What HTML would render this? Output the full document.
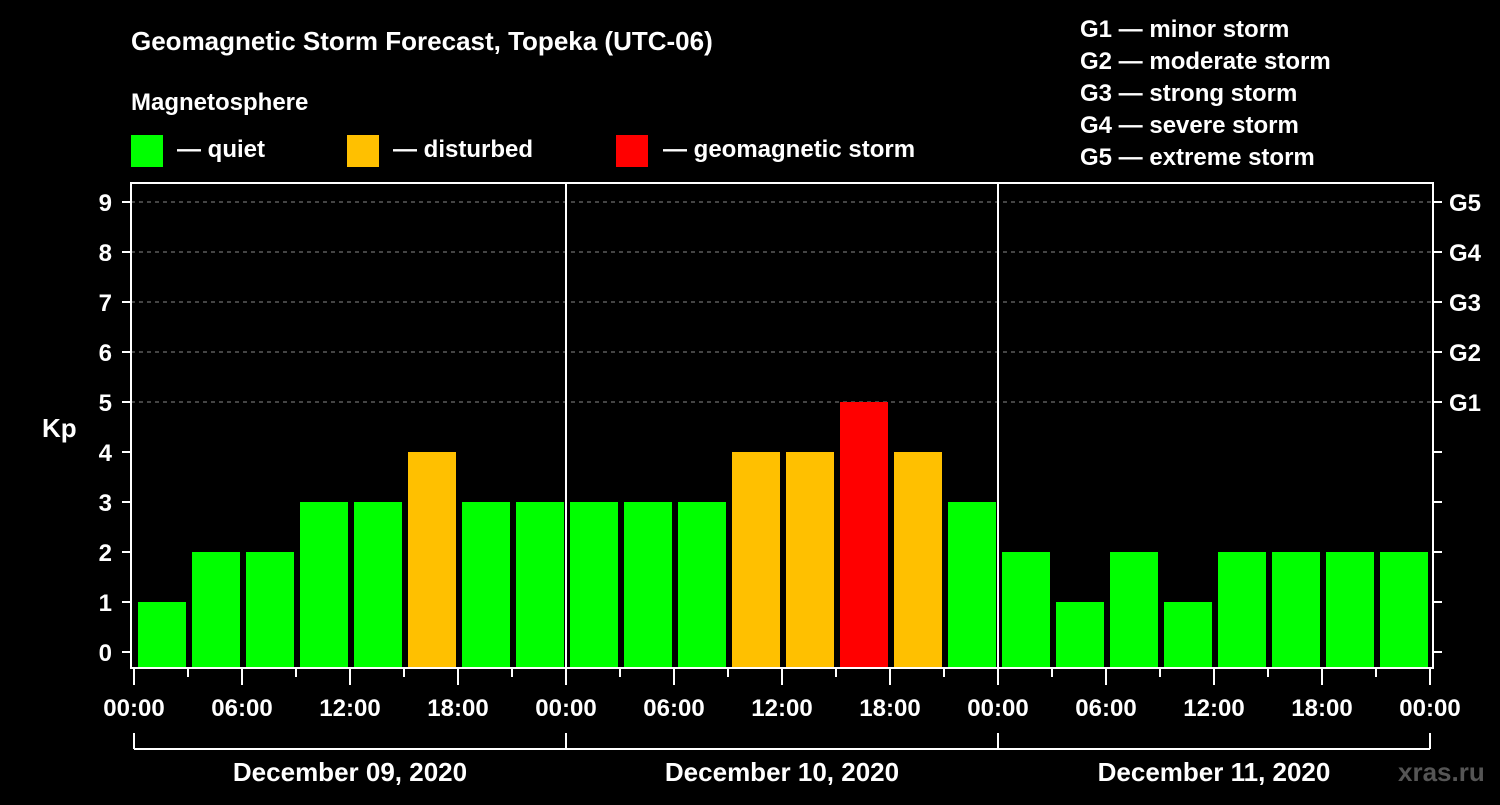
<!DOCTYPE html>
<html><head><meta charset="utf-8"><style>
body{margin:0;background:#000;}
svg text{font-family:"Liberation Sans",sans-serif;font-weight:bold;fill:#fff;}
</style></head><body>
<svg id="chart" width="1500" height="800" xmlns="http://www.w3.org/2000/svg">
<rect width="1500" height="800" fill="#000"/>
<text x="131" y="50" font-size="26">Geomagnetic Storm Forecast, Topeka (UTC-06)</text>
<text x="131" y="110" font-size="24">Magnetosphere</text>
<g>
<rect x="131" y="135" width="32" height="32" fill="#00ff00"/>
<text x="177" y="157" font-size="24">— quiet</text>
<rect x="347" y="135" width="32" height="32" fill="#ffc000"/>
<text x="393" y="157" font-size="24">— disturbed</text>
<rect x="616" y="135" width="32" height="32" fill="#ff0000"/>
<text x="663" y="157" font-size="24">— geomagnetic storm</text>
</g>
<g font-size="24">
<text x="1080" y="37">G1 — minor storm</text>
<text x="1080" y="69">G2 — moderate storm</text>
<text x="1080" y="101">G3 — strong storm</text>
<text x="1080" y="133">G4 — severe storm</text>
<text x="1080" y="165">G5 — extreme storm</text>
</g>
<text x="42" y="437" font-size="26">Kp</text>
<g id="grid"></g>
<g id="bars"></g>
<g id="axes"></g>
<text x="1398" y="781" font-size="26" fill="#555" style="fill:#555">xras.ru</text>
</svg>
<script>
const kpValues = [1,2,2,3,3,4,3,3, 3,3,3,4,4,5,4,3, 2,1,2,1,2,2,2,2];
const yTicks = [0,1,2,3,4,5,6,7,8,9];
const gLabels = ["G1","G2","G3","G4","G5"];
const gLevels = [5,6,7,8,9];
const dayLabels = ["December 09, 2020","December 10, 2020","December 11, 2020"];
const hourLabels = ["00:00","06:00","12:00","18:00"];

const NS="http://www.w3.org/2000/svg";
const x0=134, x1=1430, frameL=131, frameR=1433, frameT=183, frameB=668;
const yMin=-0.32;
function yS(v){return 652-(v)*50;}
function xS(i){return x0+(x1-x0)*i/kpValues.length;}
function color(v){return v>=5?"#ff0000":(v>=4?"#ffc000":"#00ff00");}
function mk(tag,attrs,parent){const e=document.createElementNS(NS,tag);for(const k in attrs)e.setAttribute(k,attrs[k]);parent.appendChild(e);return e;}
const grid=document.getElementById('grid'),bars=document.getElementById('bars'),axes=document.getElementById('axes');

yTicks.forEach(v=>{
  if(v>=5){const l=mk('line',{x1:frameL,x2:frameR,y1:yS(v),y2:yS(v),stroke:'#888','stroke-dasharray':'4,4','stroke-width':1},grid);
  
  }
  const t=mk('line',{x1:122,x2:frameL,y1:yS(v),y2:yS(v),stroke:'#fff','stroke-width':2},axes);
  
  
  const rt=mk('line',{x1:frameR,x2:1442,y1:yS(v),y2:yS(v),stroke:'#fff','stroke-width':2},axes);
  
  
  const tx=mk('text',{x:112,y:yS(v)+9,'font-size':24,'text-anchor':'end'},axes);
  tx.textContent=v;
  
  
});
gLabels.forEach((g,i)=>{
  const tx=mk('text',{x:1449,y:yS(gLevels[i])+9,'font-size':24},axes);
  tx.textContent=g;
  
  
});
kpValues.forEach((v,i)=>{
  const top=yS(v);
  const r=mk('rect',{x:xS(i)+4,y:top,width:xS(i+1)-xS(i)-6,height:frameB-top,fill:color(v)},bars);
  
  
});
// frame
const f=mk('rect',{x:frameL,y:frameT,width:frameR-frameL,height:frameB-frameT,fill:'none',stroke:'#fff','stroke-width':2},axes);


for(let d=1;d<dayLabels.length;d++){
  const xx=xS(d*8);
  const l=mk('line',{x1:xx,x2:xx,y1:frameT,y2:frameB,stroke:'#fff','stroke-width':2},axes);
  
  
}
for(let i=0;i<=kpValues.length;i++){
  const xx=xS(i);const major=i%2===0;
  const t=mk('line',{x1:xx,x2:xx,y1:frameB,y2:major?685:677,stroke:'#fff','stroke-width':2},axes);
  
  
  if(major){
    const tx=mk('text',{x:xx,y:716,'font-size':24,'text-anchor':'middle'},axes);
    tx.textContent=hourLabels[(i/2)%4];
    
    
  }
}
const br=mk('line',{x1:x0,x2:x1,y1:749,y2:749,stroke:'#fff','stroke-width':2},axes);


for(let d=0;d<=dayLabels.length;d++){
  const xx=xS(d*8);
  const t=mk('line',{x1:xx,x2:xx,y1:733,y2:749,stroke:'#fff','stroke-width':2},axes);
  
  
}
dayLabels.forEach((d,i)=>{
  const tx=mk('text',{x:(xS(i*8)+xS(i*8+8))/2,y:781,'font-size':26,'text-anchor':'middle'},axes);
  tx.textContent=d;
  
  
});
</script>
</body></html>
